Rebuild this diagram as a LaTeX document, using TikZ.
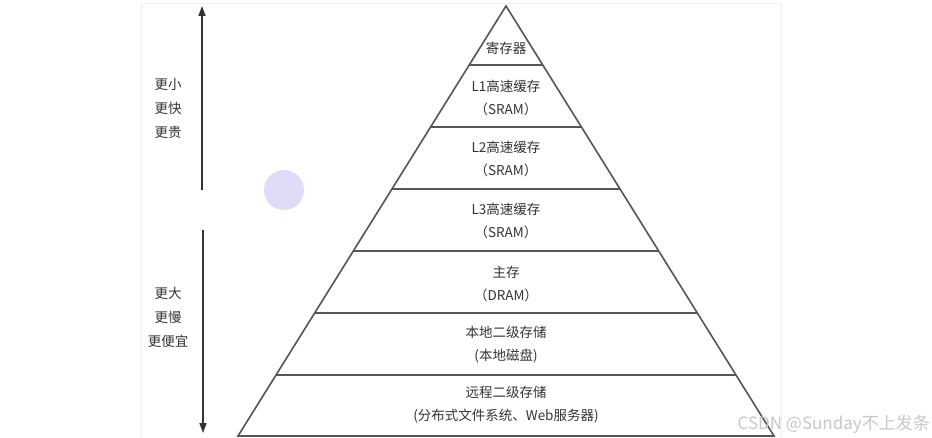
\documentclass[tikz,border=0pt]{standalone}
\usepackage{fontspec}
\newfontfamily\cjk{Noto Sans CJK SC}
\usetikzlibrary{arrows.meta,calc}
\definecolor{edgegray}{HTML}{555555}
\definecolor{inkgray}{HTML}{333333}
\definecolor{dotlilac}{HTML}{E0DCF8}
\begin{document}
\begin{tikzpicture}[x=1pt,y=-1pt,
  font=\cjk\fontsize{13.5}{23}\selectfont,
  layer/.style={align=center,text=inkgray,inner sep=0pt},
  side/.style={align=center,text=inkgray,inner sep=0pt,
    font=\cjk\fontsize{13.5}{24}\selectfont},
  tier/.style={draw=edgegray,line width=1.6pt},
  span/.style={draw=inkgray,line width=1.6pt,
    -{Triangle[length=10pt,width=7pt]}}]
\useasboundingbox (0,0) rectangle (932,438);
\draw[black!6] (141,3) rectangle (781,438);
% pyramid outline
\coordinate (apex) at (506,6);
\coordinate (bl) at (238,436);
\coordinate (br) at (774,436);
\draw[tier,line join=miter] (bl) -- (apex) -- (br) -- cycle;
\foreach \t in {0.1372,0.2814,0.4256,0.5698,0.7140,0.8581}
  \draw[tier] ($(apex)!\t!(bl)$) -- ($(apex)!\t!(br)$);
% layers
\node[layer] (reg) at (506,48) {寄存器};
\node[layer] (lone) at (506,97.5) {L1高速缓存\\（SRAM）};
\node[layer] (ltwo) at (506,158.5) {L2高速缓存\\（SRAM）};
\node[layer] (lthree) at (506,220.5) {L3高速缓存\\（SRAM）};
\node[layer] (dram) at (506,284) {主存\\（DRAM）};
\node[layer] (disk) at (506,345) {本地二级存储\\(本地磁盘)};
\node[layer] (remote) at (506,404.5) {远程二级存储\\(分布式文件系统、Web服务器)};
% side arrows
\node[side] (fast) at (168,108) {更小\\更快\\更贵};
\node[side] (slow) at (168,317) {更大\\更慢\\更便宜};
\coordinate (upfrom) at (202,190);
\coordinate (upto) at (202,6);
\coordinate (downfrom) at (203,230);
\coordinate (downto) at (203,433);
\draw[span] (upfrom) -- (upto);
\draw[span] (downfrom) -- (downto);
\fill[dotlilac] (284,190) circle (20);
\node[anchor=east,text=black!22,inner sep=0pt,
  font=\cjk\fontsize{17}{19}\selectfont] (mark) at (930,424) {CSDN @Sunday不上发条};
\end{tikzpicture}
\end{document}
